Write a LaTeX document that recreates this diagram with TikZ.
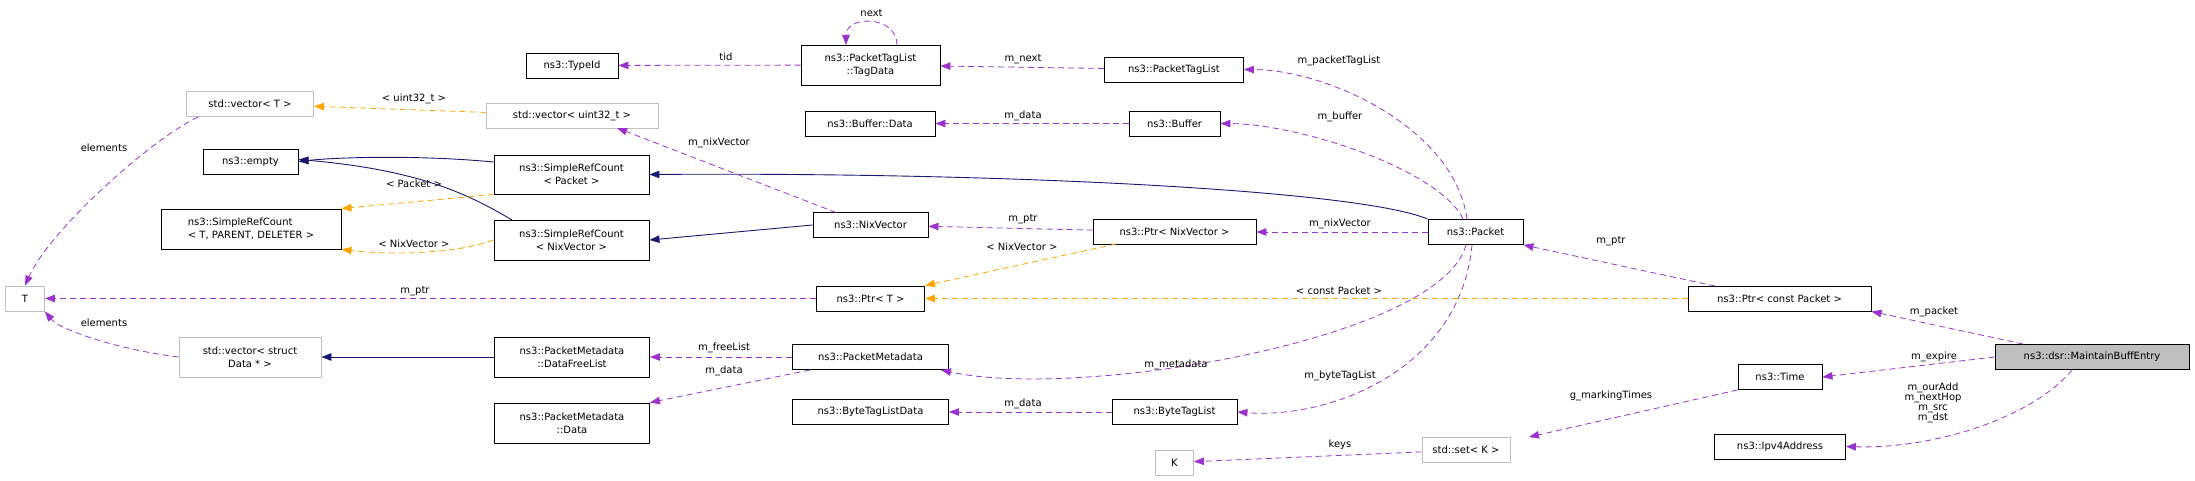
\documentclass[tikz,border=0pt]{standalone}
\usepackage{fontspec}
\setmainfont{DejaVu Sans}
\usetikzlibrary{arrows.meta}
\definecolor{edgepurple}{HTML}{9A32CD}
\definecolor{edgeorange}{HTML}{FFA500}
\definecolor{edgenavy}{HTML}{191970}
\definecolor{boxgray}{HTML}{BFBFBF}
\definecolor{entrygray}{HTML}{BFBFBF}
\tikzset{
  cls/.style={draw=black, line width=0.9pt, inner sep=1pt, align=center,
    font=\fontsize{10}{13}\selectfont, minimum height=25},
  tpl/.style={cls, draw=boxgray},
  lbl/.style={inner sep=0.5pt, font=\fontsize{10}{12}\selectfont, align=center},
  tip/.style={-{Triangle[length=10pt,width=7.5pt]}},
  usage/.style={tip, draw=edgepurple, fill=none, line width=0.8pt, dash pattern=on 6pt off 4pt,
    -{Triangle[length=10pt,width=7.5pt,fill=edgepurple]}},
  templ/.style={draw=edgeorange, line width=0.8pt, dash pattern=on 6pt off 4pt,
    -{Triangle[length=10pt,width=7.5pt,fill=edgeorange]}},
  inherit/.style={draw=edgenavy, line width=0.9pt,
    -{Triangle[length=10pt,width=7.5pt,fill=edgenavy]}},
}
\begin{document}
\begin{tikzpicture}[x=1pt,y=-1pt]
\useasboundingbox (0,0) rectangle (2195,481);

% classes
\node[cls, minimum width=92] (typeid) at (572,65.5) {ns3::TypeId};
\node[tpl, minimum width=127] (vecT) at (250,104) {std::vector\textless{} T \textgreater{}};
\node[tpl, minimum width=172] (vecU32) at (572,115.5) {std::vector\textless{} uint32\_t \textgreater{}};
\node[cls, minimum width=95] (empty) at (250.5,161.5) {ns3::empty};
\node[cls, minimum width=155, minimum height=39] (srcPacket) at (571.5,174.5) {ns3::SimpleRefCount\\\textless{} Packet \textgreater{}};
\node[cls, minimum width=180, minimum height=40, align=left] (srcT) at (251,229) {ns3::SimpleRefCount\\\textless{} T, PARENT, DELETER \textgreater{}};
\node[cls, minimum width=155, minimum height=40] (srcNix) at (571.5,240) {ns3::SimpleRefCount\\\textless{} NixVector \textgreater{}};
\node[tpl, minimum width=39] (tT) at (25,298.5) {T};
\node[tpl, minimum width=142, minimum height=40] (vecData) at (250,357) {std::vector\textless{} struct\\Data * \textgreater{}};
\node[cls, minimum width=155, minimum height=40] (freeList) at (572,357) {ns3::PacketMetadata\\::DataFreeList};
\node[cls, minimum width=155, minimum height=40] (pmData) at (572,423) {ns3::PacketMetadata\\::Data};

\node[cls, minimum width=139, minimum height=40] (tagData) at (870.5,65) {ns3::PacketTagList\\::TagData};
\node[cls, minimum width=139] (tagList) at (1174,69.5) {ns3::PacketTagList};
\node[cls, minimum width=130] (bufData) at (870,123.5) {ns3::Buffer::Data};
\node[cls, minimum width=91] (buffer) at (1174.5,123.5) {ns3::Buffer};
\node[cls, minimum width=115] (nixVector) at (870.5,225) {ns3::NixVector};
\node[cls, minimum width=163] (ptrNix) at (1174.5,232) {ns3::Ptr\textless{} NixVector \textgreater{}};
\node[cls, minimum width=95] (packet) at (1475.5,232) {ns3::Packet};
\node[cls, minimum width=108] (ptrT) at (870.5,298.5) {ns3::Ptr\textless{} T \textgreater{}};
\node[cls, minimum width=156] (metadata) at (870.5,357) {ns3::PacketMetadata};
\node[cls, minimum width=156] (btlData) at (870.5,412) {ns3::ByteTagListData};
\node[cls, minimum width=125] (byteTagList) at (1174.5,412) {ns3::ByteTagList};
\node[tpl, minimum width=38] (tK) at (1174.5,462.5) {K};
\node[tpl, minimum width=88] (setK) at (1466,450) {std::set\textless{} K \textgreater{}};

\node[cls, minimum width=183] (ptrPacket) at (1779.5,298.5) {ns3::Ptr\textless{} const Packet \textgreater{}};
\node[cls, minimum width=84] (time) at (1780,377) {ns3::Time};
\node[cls, minimum width=131] (ipv4) at (1780,446.5) {ns3::Ipv4Address};
\node[cls, fill=entrygray, minimum width=194] (entry) at (2092,357) {ns3::dsr::MaintainBuffEntry};

% inheritance
\draw[inherit] (srcPacket.west |- 0,162) .. controls (420,155) and (340,157) .. (empty.east);
\draw[inherit] (512,220) .. controls (470,195) and (420,170) .. ([yshift=2]empty.east);
\draw[inherit] (packet.north west) .. controls (1360,190) and (1000,172) .. (srcPacket.east);
\draw[inherit] (nixVector.west) -- (srcNix.east);
\draw[inherit] (freeList) -- (vecData);

% template instances
\draw[templ] (vecU32) -- (vecT);
\draw[templ] (srcPacket.south west) -- (srcT.north east);
\draw[templ] (srcNix.west) .. controls (450,256) and (380,254) .. (srcT.south east);
\draw[templ] (1116,244) -- (ptrT.north east);
\draw[templ] (ptrPacket) -- (ptrT);

% members
\draw[usage] (tagData) -- (typeid);
\draw[usage] (897,45) .. controls +(0,-30) and +(0,-30) .. (846,45);
\draw[usage] (tagList) -- (tagData);
\draw[usage] (1467,219) .. controls (1455,130) and (1330,70) .. (tagList.east);
\draw[usage] (buffer) -- (bufData);
\draw[usage] (1463,219) .. controls (1440,170) and (1300,124) .. (buffer.east);
\draw[usage] (836,212.5) -- (617,128);
\draw[usage] (198,117) .. controls (150,140) and (50,230) .. (tT.north);
\draw[usage] (vecData.west) .. controls (120,350) and (60,330) .. (tT.south east);
\draw[usage] (ptrT) -- (tT);
\draw[usage] (ptrNix) -- (nixVector);
\draw[usage] (packet) -- (ptrNix);
\draw[usage] (1715,286) -- (packet.south east);
\draw[usage] (2023,344) -- (ptrPacket.south east);
\draw[usage] (metadata) -- (freeList);
\draw[usage] (810,370) -- (pmData.north east);
\draw[usage] (1466,245) .. controls (1440,340) and (1080,400) .. (941,370);
\draw[usage] (byteTagList) -- (btlData);
\draw[usage] (1472,245) .. controls (1460,370) and (1330,419) .. (byteTagList.east);
\draw[usage] (setK) -- (tK);
\draw[usage] (time.south west) -- (1529,437);
\draw[usage] (entry.west) -- (time.east);
\draw[usage] (2072,370) .. controls (2030,420) and (1930,449) .. (ipv4.east);

% labels
\node[lbl] (lTid) at (726,57) {tid};
\node[lbl] (lNext) at (871.5,13) {next};
\node[lbl] (lMNext) at (1023,59) {m\_next};
\node[lbl] (lTagList) at (1339,61) {m\_packetTagList};
\node[lbl] (lBufData) at (1023,116) {m\_data};
\node[lbl] (lBuffer) at (1340,117) {m\_buffer};
\node[lbl] (lU32) at (414,99) {\textless{} uint32\_t \textgreater{}};
\node[lbl] (lNixVec) at (719,143) {m\_nixVector};
\node[lbl] (lPacket) at (414,184) {\textless{} Packet \textgreater{}};
\node[lbl] (lNix) at (414,244) {\textless{} NixVector \textgreater{}};
\node[lbl] (lElemA) at (104,148) {elements};
\node[lbl] (lElemB) at (104,323) {elements};
\node[lbl] (lPtrT) at (415,291) {m\_ptr};
\node[lbl] (lPtrNix) at (1023,219) {m\_ptr};
\node[lbl] (lNixVecB) at (1340,224) {m\_nixVector};
\node[lbl] (lNixB) at (1022,247) {\textless{} NixVector \textgreater{}};
\node[lbl] (lConst) at (1339,291) {\textless{} const Packet \textgreater{}};
\node[lbl] (lPtrPk) at (1611,241) {m\_ptr};
\node[lbl] (lMPacket) at (1934,312) {m\_packet};
\node[lbl] (lFree) at (724,348) {m\_freeList};
\node[lbl] (lPmData) at (724,371) {m\_data};
\node[lbl] (lMeta) at (1176,365) {m\_metadata};
\node[lbl] (lByteTag) at (1340,376) {m\_byteTagList};
\node[lbl] (lBtlData) at (1023,404) {m\_data};
\node[lbl] (lKeys) at (1340,445) {keys};
\node[lbl] (lMarking) at (1611,396) {g\_markingTimes};
\node[lbl] (lExpire) at (1934,357) {m\_expire};
\node[lbl] (lAddr) at (1933,403) {m\_ourAdd\\[-2pt]m\_nextHop\\[-2pt]m\_src\\[-2pt]m\_dst};
\end{tikzpicture}
\end{document}
